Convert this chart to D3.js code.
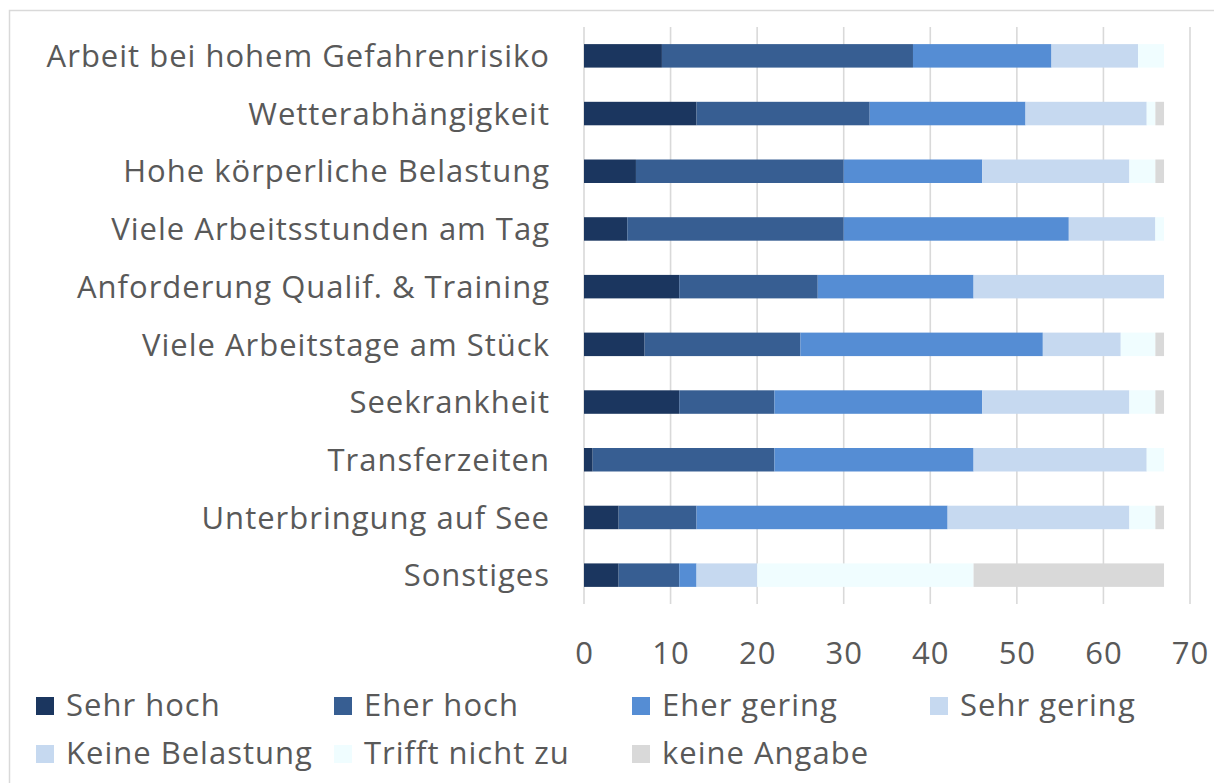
<!DOCTYPE html>
<html><head><meta charset="utf-8">
<script src="https://cdn.jsdelivr.net/npm/d3@7"></script>
<style>html,body{margin:0;padding:0;background:#fff;} svg{display:block;font-family:"Open Sans",sans-serif;}</style>
</head><body>
<svg id="chart" width="1214" height="783"></svg>
<script>
const categories = ["Arbeit bei hohem Gefahrenrisiko","Wetterabhängigkeit","Hohe körperliche Belastung","Viele Arbeitsstunden am Tag","Anforderung Qualif. & Training","Viele Arbeitstage am Stück","Seekrankheit","Transferzeiten","Unterbringung auf See","Sonstiges"];
const seriesNames = ["Sehr hoch","Eher hoch","Eher gering","Sehr gering","Keine Belastung","Trifft nicht zu","keine Angabe"];
const seriesColors = ["#1b365f","#375e92","#558dd4","#c6d9f0","#c6d9f0","#f0fdff","#d9d9d9"];
const sehrHoch       = [9,13,6,5,11,7,11,1,4,4];
const eherHoch       = [29,20,24,25,16,18,11,21,9,7];
const eherGering     = [16,18,16,26,18,28,24,23,29,2];
const sehrGering     = [10,14,17,10,22,9,17,20,21,7];
const keineBelastung = [0,0,0,0,0,0,0,0,0,0];
const trifftNicht    = [3,1,3,1,0,4,3,2,3,25];
const keineAngabe    = [0,1,1,0,0,1,1,0,1,22];
const xTicks = [0,10,20,30,40,50,60,70];

const seriesValues = [sehrHoch,eherHoch,eherGering,sehrGering,keineBelastung,trifftNicht,keineAngabe];
const rows = categories.map((c,i)=>{const o={cat:c}; seriesNames.forEach((s,j)=>o[s]=seriesValues[j][i]); return o;});

const svg = d3.select("#chart");
const textColor = "#595959";
const fs = 31, ls = "1px";

// outer border
svg.append("rect").attr("x",9.5).attr("y",10.5).attr("width",1400).attr("height",1000)
  .attr("fill","none").attr("stroke","#d9d9d9").attr("stroke-width",1.5);

const x = d3.scaleLinear().domain([0,70]).range([584,1190]);
const y = d3.scaleBand().domain(categories).range([27,604]).paddingInner(0.593).paddingOuter(0.2965);

// gridlines
svg.append("g").selectAll("line").data(xTicks).join("line")
  .attr("x1",d=>x(d)).attr("x2",d=>x(d)).attr("y1",27).attr("y2",604)
  .attr("stroke","#d9d9d9").attr("stroke-width",1.6);

const stack = d3.stack().keys(seriesNames)(rows);
svg.append("g").selectAll("g").data(stack).join("g")
  .attr("fill",(d,i)=>seriesColors[i])
  .selectAll("rect").data(d=>d).join("rect")
  .attr("x",d=>x(d[0])).attr("width",d=>x(d[1])-x(d[0]))
  .attr("y",d=>y(d.data.cat)).attr("height",y.bandwidth());

// category labels
svg.append("g").selectAll("text").data(categories).join("text")
  .attr("x",550).attr("y",d=>y(d)+y.bandwidth()/2).attr("dy","0.36em")
  .attr("text-anchor","end").attr("font-size",fs).attr("letter-spacing",ls).attr("fill",textColor).text(d=>d);

// x axis tick labels
const xAxis = d3.axisBottom(x).tickValues(xTicks).tickSize(0).tickPadding(0);
const gx = svg.append("g").attr("transform","translate(0,664)").call(xAxis);
gx.select(".domain").remove();
gx.selectAll("text").attr("font-size",fs).attr("letter-spacing",ls).attr("fill",textColor)
  .attr("font-family","Open Sans, sans-serif").attr("dy",0).attr("y",0);

// legend
const legendPos = [[36,716],[334,716],[632,716],[930,716],[36,764],[334,764],[632,764]];
const lg = svg.append("g").selectAll("g").data(seriesNames).join("g")
  .attr("transform",(d,i)=>`translate(${legendPos[i][0]},${legendPos[i][1]})`);
lg.append("rect").attr("x",0).attr("y",-19).attr("width",18).attr("height",18).attr("fill",(d,i)=>seriesColors[i]);
lg.append("text").attr("x",30).attr("y",0).attr("font-size",fs).attr("letter-spacing",ls).attr("fill",textColor).text(d=>d);
</script>
</body></html>
